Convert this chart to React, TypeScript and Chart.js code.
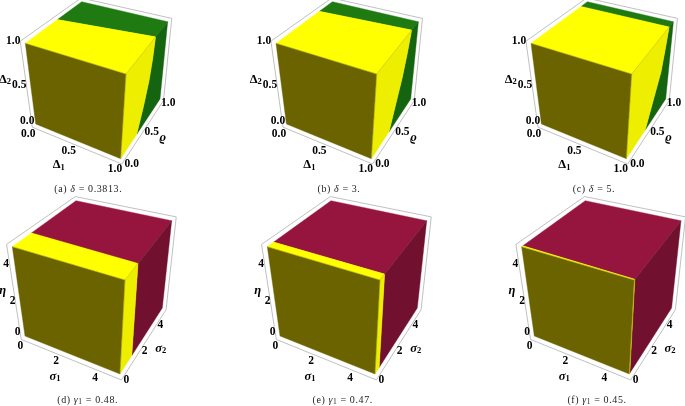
import { useEffect, useRef } from "react"
import { Chart, registerables } from "chart.js"

Chart.register(...registerables)

// values: where the yellow region ends along the depth axis
const panelLetters = ["a", "b", "c", "d", "e", "f"]
const captionSymbols = ["δ", "δ", "δ", "γ", "γ", "γ"]
const captionValues = ["0.3813", "3", "5", "0.48", "0.47", "0.45"]
const topBoundaryNear = [0.57, 0.77, 0.887, 0.3, 0.1, 0.02]
const topBoundaryFar = [0.71, 0.84, 0.9, 0.28, 0.1, 0.012]
const sideBoundaries = [
  [0.41, 0.54, 0.635, 0.685, 0.71],
  [0.45, 0.58, 0.7, 0.78, 0.84],
  [0.48, 0.64, 0.79, 0.85, 0.9],
  [0.28, 0.28],
  [0.1, 0.1],
  [0.012, 0.012],
]
const ticksTop = ["0.0", "0.5", "1.0"]
const ticksBottom = ["0", "2", "4"]

const panelOffsets = [
  [0, 0],
  [250.7, 0],
  [505.7, 0],
  [0, 0],
  [255, 0],
  [509.3, 0],
]

type Pt = [number, number]
// cube corners on screen, [u][v][w]
const cubeTop: Pt[] = [
  [35.7, 124], [25.3, 43.3], [75, 64.3], [81.7, 1.7],
  [120.7, 158.7], [126, 74], [160, 99], [167.7, 21.7],
]
const cubeBottom: Pt[] = [
  [25, 336], [12.3, 246.7], [69, 273], [76, 200.7],
  [120, 374], [125, 280], [162.3, 308], [171.7, 220.7],
]

const topRowColors = { front: "#6b6300", top: "#ffff00", side: "#eeee00", topFar: "#1f7a12", sideFar: "#15640f" }
const bottomRowColors = { front: "#6b6300", top: "#ffff00", side: "#eeee00", topFar: "#96153f", sideFar: "#72102f" }

function project(corners: Pt[], dx: number, u: number, v: number, w: number) {
  const at = (i: number, k: 0 | 1) => {
    const a = corners[i][k] * (1 - w) + corners[i + 1][k] * w
    const b = corners[i + 2][k] * (1 - w) + corners[i + 3][k] * w
    return a * (1 - v) + b * v
  }
  const p = (k: 0 | 1) => at(0, k) * (1 - u) + at(4, k) * u
  return { x: p(0) + dx, y: p(1) }
}

function polygon(points: { x: number; y: number }[], color: string) {
  return {
    data: [...points, points[0]],
    showLine: true,
    fill: "shape",
    backgroundColor: color,
    borderColor: color,
    borderWidth: 0.4,
    pointRadius: 0,
    tension: 0,
  }
}

function polyline(points: { x: number; y: number }[], color: string, width: number) {
  return {
    data: points,
    showLine: true,
    fill: false,
    borderColor: color,
    borderWidth: width,
    pointRadius: 0,
    tension: 0,
  }
}

function buildDatasets() {
  const sets: any[] = []
  panelLetters.forEach((_, i) => {
    const corners = i < 3 ? cubeTop : cubeBottom
    const colors = i < 3 ? topRowColors : bottomRowColors
    const dx = panelOffsets[i][0]
    const P = (u: number, v: number, w: number) => project(corners, dx, u, v, w)
    const curve = sideBoundaries[i]
    const sideLine = curve.map((v, k) => P(1, v, k / (curve.length - 1)))

    // bounding box
    const e = 0.03
    const lo = -e
    const hi = 1 + e
    sets.push(polyline([P(lo, lo, hi), P(lo, hi, hi), P(hi, hi, hi), P(hi, hi, lo), P(hi, lo, lo), P(lo, lo, lo), P(lo, lo, hi)], "#b0b0b0", 0.8))

    sets.push(polygon([P(0, 0, 0), P(1, 0, 0), P(1, 0, 1), P(0, 0, 1)], colors.front))
    sets.push(polygon([P(0, topBoundaryNear[i], 1), P(1, topBoundaryFar[i], 1), P(1, 1, 1), P(0, 1, 1)], colors.topFar))
    sets.push(polygon([P(0, 0, 1), P(1, 0, 1), P(1, topBoundaryFar[i], 1), P(0, topBoundaryNear[i], 1)], colors.top))
    sets.push(polygon([...sideLine, P(1, 1, 1), P(1, 1, 0)], colors.sideFar))
    sets.push(polygon([P(1, 0, 0), ...sideLine, P(1, 0, 1)], colors.side))
    sets.push(polyline([P(0, 0, 1), P(1, 0, 1), P(1, 0, 0)], "rgba(50,50,0,0.55)", 0.5))
    sets.push(polyline([P(1, 0, 1), P(1, topBoundaryFar[i], 1)], "rgba(50,50,0,0.4)", 0.4))
  })
  return sets.map((s, i) => ({ ...s, order: -i, clip: false }))
}

// label anchors relative to each panel
const topTicksLayout = {
  vertical: [[27.3, 120.7], [19.3, 84.7], [13.3, 41]],
  front: [[28.3, 134], [68.7, 151], [115, 169.3]],
  depth: [[131.7, 164], [151.7, 131.7], [168.3, 103.3]],
  labels: [[5, 79.3], [58.7, 165], [162.7, 138]],
  caption: [88.3, 189.7],
}
const bottomTicksLayout = {
  vertical: [[17.7, 332.3], [12.7, 301], [6, 264.3]],
  front: [[20.3, 346.3], [56, 361.3], [95, 377.7]],
  depth: [[126.3, 380], [144.7, 350.7], [160.3, 325]],
  labels: [[2.7, 290.7], [55, 376.3], [160.7, 348.3]],
  caption: [87.7, 400],
}
const topAxisNames = [["Δ", "2", ""], ["Δ", "1", ""], ["ϱ", "", "italic "]]
const bottomAxisNames = [["η", "", "italic "], ["σ", "1", "italic "], ["σ", "2", "italic "]]

const SERIF = '"Liberation Serif", serif'

const textPlugin = {
  id: "cubeText",
  afterDraw(chart: Chart) {
    const ctx = chart.ctx
    ctx.save()
    ctx.textBaseline = "middle"
    ctx.textAlign = "left"
    panelLetters.forEach((letter, i) => {
      const dx = panelOffsets[i][0]
      const layout = i < 3 ? topTicksLayout : bottomTicksLayout
      const ticks = i < 3 ? ticksTop : ticksBottom
      const names = i < 3 ? topAxisNames : bottomAxisNames
      ctx.fillStyle = "#000"
      ctx.font = `bold 11.5px ${SERIF}`
      ;[layout.vertical, layout.front, layout.depth].forEach((anchors) => {
        anchors.forEach((a, k) => {
          const w = ctx.measureText(ticks[k]).width
          ctx.fillText(ticks[k], a[0] + dx - w / 2, a[1])
        })
      })
      names.forEach(([main, sub, style], k) => {
        const a = layout.labels[k]
        ctx.font = `${style}bold 12.5px ${SERIF}`
        const mw = ctx.measureText(main).width
        ctx.font = `bold 8.5px ${SERIF}`
        const sw = sub ? ctx.measureText(sub).width : 0
        const left = a[0] + dx - (mw + sw) / 2
        ctx.font = `${style}bold 12.5px ${SERIF}`
        ctx.fillText(main, left, a[1])
        if (sub) {
          ctx.font = `bold 8.5px ${SERIF}`
          ctx.fillText(sub, left + mw, a[1] + 2.5)
        }
      })

      // caption, in pieces so that the symbol can be italic
      const parts: [string, string][] = [[`(${letter}) `, ""], [captionSymbols[i], "i"]]
      if (i >= 3) parts.push(["1", "s"])
      parts.push([` = ${captionValues[i]}.`, ""])
      const fontFor = (kind: string) =>
        kind === "i" ? `italic 10px ${SERIF}` : kind === "s" ? `7.5px ${SERIF}` : `10px ${SERIF}`
      ;(ctx as any).letterSpacing = "0.6px"
      let total = 0
      parts.forEach(([t, kind]) => {
        ctx.font = fontFor(kind)
        total += ctx.measureText(t).width
      })
      let x = layout.caption[0] + dx - total / 2
      ctx.fillStyle = "#222"
      parts.forEach(([t, kind]) => {
        ctx.font = fontFor(kind)
        ctx.fillText(t, x, layout.caption[1] + (kind === "s" ? 2 : 0))
        x += ctx.measureText(t).width
      })
      ;(ctx as any).letterSpacing = "0px"
    })
    ctx.restore()
  },
}

export default function App() {
  const chartRef = useRef<HTMLCanvasElement>(null)

  useEffect(() => {
    if (!chartRef.current) return
    const chart = new Chart(chartRef.current, {
      type: "scatter",
      data: { datasets: buildDatasets() },
      options: {
        responsive: false,
        animation: false,
        devicePixelRatio: 1,
        layout: { padding: 0 },
        scales: {
          x: { type: "linear", min: 0, max: 685, display: false },
          y: { type: "linear", min: 0, max: 406, reverse: true, display: false },
        },
        plugins: { legend: { display: false }, tooltip: { enabled: false } },
      },
      plugins: [textPlugin],
    } as any)
    return () => chart.destroy()
  }, [])

  return (
    <div style={{ position: "absolute", left: 0, top: 0, width: 685, height: 406, background: "#fff" }}>
      <canvas ref={chartRef} width={685} height={406} style={{ display: "block" }} />
    </div>
  )
}
